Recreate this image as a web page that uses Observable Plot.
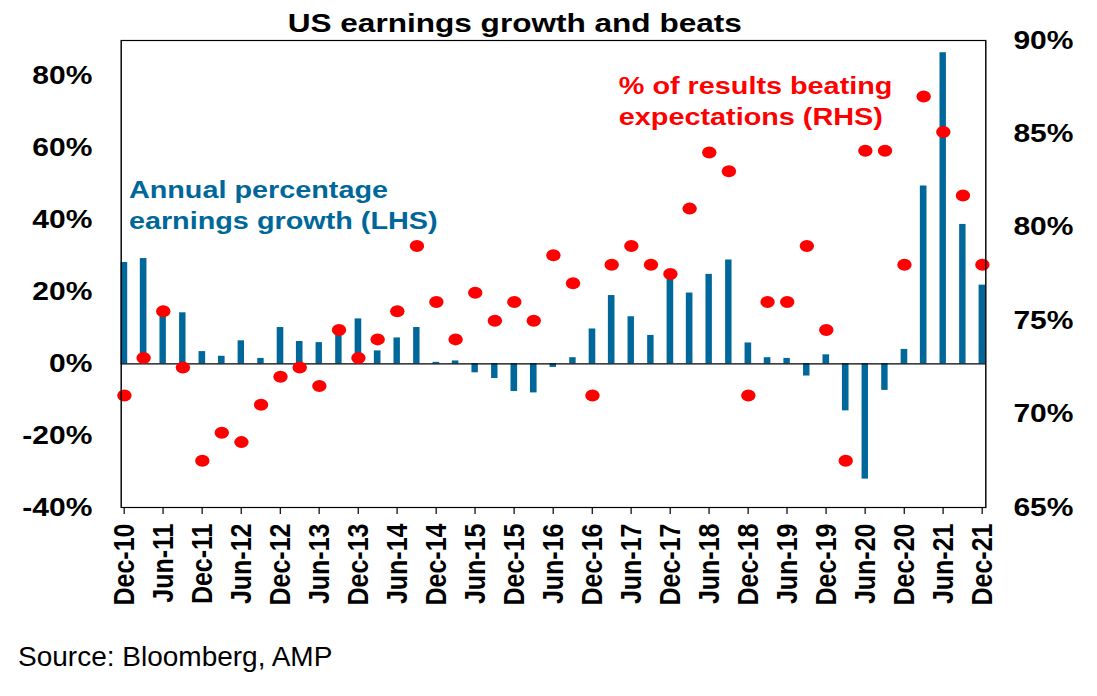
<!DOCTYPE html>
<html><head><meta charset="utf-8">
<script src="https://cdn.jsdelivr.net/npm/d3@7"></script>
<script src="https://cdn.jsdelivr.net/npm/@observablehq/plot@0.6"></script>
<style>
html,body{margin:0;padding:0;background:#fff;overflow:hidden;}
#page{position:relative;width:1097px;height:696px;font-family:Arial,"Liberation Sans",sans-serif;}
#chart{position:absolute;left:0;top:0;width:914px;transform:scaleX(1.2);transform-origin:0 0;}
#title{position:absolute;left:0;width:858px;top:10px;text-align:center;font-weight:bold;font-size:26.3px;line-height:26px;color:#000;z-index:2;}
#source{position:absolute;left:18px;top:643px;font-size:28px;line-height:28px;color:#000;}
</style></head>
<body><div id="page"><div id="chart"><div id="title">US earnings growth and beats</div></div><div id="source">Source: Bloomberg, AMP</div></div>
<script>
const quarters = ["Dec-10","Mar-11","Jun-11","Sep-11","Dec-11","Mar-12","Jun-12","Sep-12","Dec-12",
  "Mar-13","Jun-13","Sep-13","Dec-13","Mar-14","Jun-14","Sep-14","Dec-14","Mar-15","Jun-15","Sep-15","Dec-15",
  "Mar-16","Jun-16","Sep-16","Dec-16","Mar-17","Jun-17","Sep-17","Dec-17","Mar-18","Jun-18","Sep-18","Dec-18",
  "Mar-19","Jun-19","Sep-19","Dec-19","Mar-20","Jun-20","Sep-20","Dec-20","Mar-21","Jun-21","Sep-21","Dec-21"];
const growth = [28.2,29.3,14.0,14.2,3.4,2.1,6.4,1.5,10.1,
  6.2,5.9,9.0,12.5,3.6,7.2,10.1,0.4,0.8,-2.5,-4.1,-7.7,
  -8.1,-1.0,1.7,9.7,19.0,13.1,7.9,24.1,19.7,24.9,28.9,5.8,
  1.7,1.5,-3.4,2.5,-13.1,-32.1,-7.4,4.0,49.5,86.6,38.8,21.9];
const beats = [71.0,73.0,75.5,72.5,67.5,69.0,68.5,70.5,72.0,
  72.5,71.5,74.5,73.0,74.0,75.5,79.0,76.0,74.0,76.5,75.0,76.0,
  75.0,78.5,77.0,71.0,78.0,79.0,78.0,77.5,81.0,84.0,83.0,71.0,
  76.0,76.0,79.0,74.5,67.5,84.1,84.1,78.0,87.0,85.1,81.7,78.0];
const xTickLabels = ["Dec-10","Jun-11","Dec-11","Jun-12","Dec-12","Jun-13","Dec-13","Jun-14","Dec-14",
  "Jun-15","Dec-15","Jun-16","Dec-16","Jun-17","Dec-17","Jun-18","Dec-18","Jun-19","Dec-19","Jun-20","Dec-20","Jun-21","Dec-21"];
const leftTicks = [-40,-20,0,20,40,60,80];
const rightTicks = [65,70,75,80,85,90];
const leftDomain = [-40, 90];
const rightDomain = [65, 90];
const growthLabel = "Annual percentage\nearnings growth (LHS)";
const beatsLabel = "% of results beating\nexpectations (RHS)";

const parse = d3.utcParse("%b-%y");
const k = (leftDomain[1]-leftDomain[0])/(rightDomain[1]-rightDomain[0]);
const toLeft = v => leftDomain[0] + (v - rightDomain[0]) * k;
const fromLeft = v => rightDomain[0] + (v - leftDomain[0]) / k;
const data = quarters.map((q,i)=>({date: parse(q), growth: growth[i], beat: beats[i]}));
const blue = "#00679a", red = "#ff0000";

const chart = Plot.plot({
  width: 914, height: 620,
  marginTop: 40, marginBottom: 113, marginLeft: 100.5, marginRight: 93,
  style: {fontFamily: 'Arial, "Liberation Sans", sans-serif', fontSize: "25px", fontWeight: "bold", color: "#000", background: "transparent", overflow: "visible"},
  x: {type: "utc", domain: [parse(quarters[0]), d3.utcMonth.offset(parse(quarters[quarters.length-1]), 1)]},
  y: {domain: leftDomain},
  marks: [
    Plot.rectY(data, {x1: "date", x2: d => d3.utcMonth.offset(d.date, 1), y: "growth", fill: blue}),
    Plot.ruleY([0], {stroke: "black", strokeWidth: 1.2}),
    Plot.dot(data, {x: d => d3.utcDay.offset(d.date, 15), y: d => toLeft(d.beat), r: 6, fill: red}),
    Plot.frame({stroke: "black", strokeWidth: 1.2}),
    Plot.axisY(leftTicks, {anchor: "left", tickSize: 0, tickPadding: 24, label: null, tickFormat: d => d + "%"}),
    Plot.axisY(rightTicks.map(toLeft), {anchor: "right", tickSize: 0, tickPadding: 23, label: null, tickFormat: d => Math.round(fromLeft(d)) + "%"}),
    Plot.axisX(xTickLabels.map(parse), {anchor: "bottom", tickSize: 7, tickPadding: 9, tickRotate: -90, label: null, tickFormat: d3.utcFormat("%b-%y"), dx: 2.5}),
    Plot.text([growthLabel], {frameAnchor: "top-left", text: d => d, textAnchor: "start", lineAnchor: "top", lineHeight: 1.29, dx: 6.4, dy: 136, fill: blue, fontSize: 24, fontWeight: "bold"}),
    Plot.text([beatsLabel], {frameAnchor: "top-left", text: d => d, textAnchor: "start", lineAnchor: "top", lineHeight: 1.29, dx: 414.7, dy: 32, fill: red, fontSize: 24, fontWeight: "bold"})
  ]
});
document.getElementById("chart").appendChild(chart);
</script>
</body></html>
